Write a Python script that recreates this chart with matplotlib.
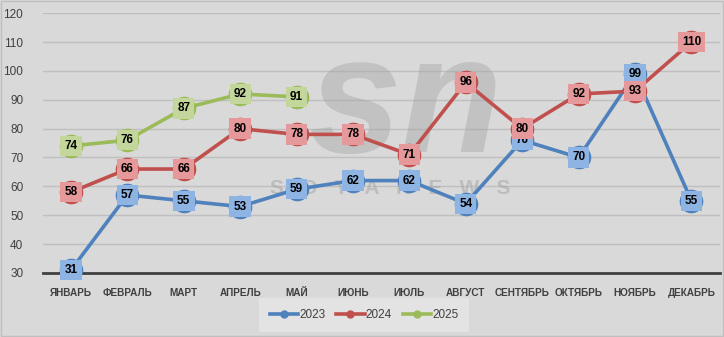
import matplotlib.pyplot as plt
from matplotlib.patches import Rectangle

plt.rcParams['font.family'] = ['Liberation Sans', 'DejaVu Sans']

months = ['ЯНВАРЬ', 'ФЕВРАЛЬ', 'МАРТ', 'АПРЕЛЬ', 'МАЙ', 'ИЮНЬ', 'ИЮЛЬ',
          'АВГУСТ', 'СЕНТЯБРЬ', 'ОКТЯБРЬ', 'НОЯБРЬ', 'ДЕКАБРЬ']
y2023 = [31, 57, 55, 53, 59, 62, 62, 54, 76, 70, 99, 55]
y2024 = [58, 66, 66, 80, 78, 78, 71, 96, 80, 92, 93, 110]
y2025 = [74, 76, 87, 92, 91]

series = [
    ('2023', y2023, '#4f81bd', '#8db4e2'),
    ('2024', y2024, '#c0504d', '#e6999a'),
    ('2025', y2025, '#9bbb59', '#c3d69b'),
]

fig = plt.figure(figsize=(7.24, 3.37), dpi=100)
fig.patch.set_facecolor('#d9d9d9')
fig.patches.append(Rectangle((0.001, 0.002), 0.997, 0.995, transform=fig.transFigure,
                             fill=False, edgecolor='#bfbfbf', linewidth=1))
ax = fig.add_axes([0.059, 0.19, 0.935, 0.771])
ax.set_facecolor('#d9d9d9')

# watermark
ax.text(0.535, 0.63, 'sn', transform=ax.transAxes, fontsize=120, fontweight='bold',
        style='italic', color='#a6a6a6', alpha=0.45, ha='center', va='center', zorder=1.5)
ax.text(0.513, 0.325, 'S   O   Y   A   N   E   W   S', transform=ax.transAxes,
        fontsize=15, fontweight='bold', color='#a6a6a6', alpha=0.55, ha='center',
        va='center', zorder=1.5)

x = list(range(len(months)))
for name, vals, line_c, box_c in series:
    xs = x[:len(vals)]
    ax.plot(xs, vals, color=line_c, linewidth=2.6, marker='o', markersize=17,
            markeredgewidth=0, label=name, zorder=3)
    for xi, v in zip(xs, vals):
        ax.text(xi, v, str(v), ha='center', va='center', fontsize=8.5, fontweight='bold',
                color='black', zorder=4,
                bbox=dict(boxstyle='square,pad=0.35', facecolor=box_c, edgecolor='none'))

ax.set_xlim(-0.5, 11.5)
ax.set_ylim(30, 120)
ax.set_yticks(range(30, 121, 10))
ax.set_xticks(x)
ax.set_xticklabels(months, fontsize=7.2, fontweight='bold', color='#404040')
ax.tick_params(axis='y', labelsize=8.5, colors='#404040', length=0, pad=14)
ax.tick_params(axis='x', length=0, pad=11)
ax.grid(axis='y', color='#bfbfbf', linewidth=1)
ax.set_axisbelow(True)
for s in ['top', 'right', 'left']:
    ax.spines[s].set_visible(False)
ax.spines['bottom'].set_color('#404040')
ax.spines['bottom'].set_linewidth(2)
ax.spines['bottom'].set_zorder(2.5)

leg_handles = []
for name, vals, line_c, box_c in series:
    h, = ax.plot([], [], color=line_c, linewidth=2.6, marker='o', markersize=5, label=name)
    leg_handles.append(h)
leg = fig.legend(handles=leg_handles, loc='center', bbox_to_anchor=(0.503, 0.065), ncol=3,
                 fontsize=8.5, frameon=True, facecolor='#e6e6e6', edgecolor='none',
                 handlelength=2.4, handletextpad=0.1, columnspacing=0.9, borderpad=0.6)
leg.get_frame().set_boxstyle('square')
for t in leg.get_texts():
    t.set_color('#404040')

fig.savefig('out.png', dpi=100, facecolor=fig.get_facecolor())
